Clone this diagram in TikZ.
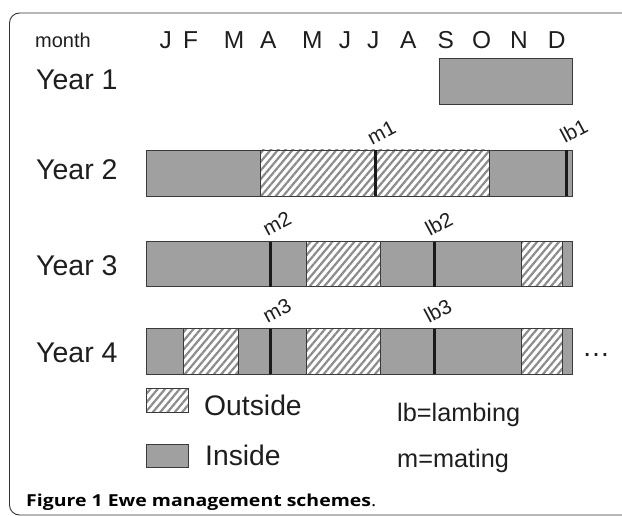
\documentclass[tikz,border=0pt]{standalone}
\usepackage{fontspec}
\setmainfont{Liberation Sans}
\newfontfamily\capfont{Open Sans}
\usetikzlibrary{patterns.meta}
\definecolor{barfill}{HTML}{A0A0A0}
\definecolor{bardraw}{HTML}{3A3A3A}
\definecolor{hatchcol}{HTML}{8C8C8C}
\definecolor{markcol}{HTML}{1A1A1A}
\definecolor{txt}{HTML}{1E1E1E}
\definecolor{framecol}{HTML}{333333}
\tikzset{
  insidebar/.style={fill=barfill, draw=bardraw, line width=0.9pt},
  outsidebar/.style={preaction={fill=white}, pattern={Lines[angle=50,distance=5.6pt,line width=2.2pt]}, pattern color=hatchcol, draw=bardraw, line width=0.9pt},
  markline/.style={draw=markcol, line width=3pt},
  lbl/.style={anchor=base west, inner sep=0pt, text=txt},
  monthtxt/.style={anchor=base, inner sep=0pt, text=txt, font=\fontsize{24.5}{29}\selectfont},
  yeartxt/.style={lbl, font=\fontsize{28.5}{33}\selectfont},
  smalltxt/.style={lbl, font=\fontsize{20}{24}\selectfont},
  ratxt/.style={lbl, rotate=28, font=\fontsize{20.5}{24}\selectfont},
  legtxt/.style={lbl, font=\fontsize{28.3}{33}\selectfont},
  keytxt/.style={lbl, font=\fontsize{25.3}{30}\selectfont},
  frame/.style={draw=framecol, line width=0.9pt, rounded corners=10pt}
}
\begin{document}
\begin{tikzpicture}[x=1pt,y=-1pt]
\useasboundingbox (0,0) rectangle (622,516);
\clip (0,0) rectangle (622,516);
\draw[frame] (9.5,13) rectangle (660,515);
% header
\node[smalltxt] (month) at (35,48) {month};
\foreach \m/\x [count=\i] in {J/165.7,F/190.7,M/234,A/268.3,M/312.3,J/345,J/373.3,A/408.3,S/445.7,O/481.7,N/519,D/556.7}
  \node[monthtxt] (mo\i) at (\x,48.3) {\m};
% year labels
\node[yeartxt] (y1) at (36,90) {Year 1};
\node[yeartxt] (y2) at (36,180) {Year 2};
\node[yeartxt] (y3) at (36,276) {Year 3};
\node[yeartxt] (y4) at (36,362) {Year 4};
% Year 1
\draw[insidebar] (439.5,58.3) rectangle (572,104);
% Year 2
\draw[insidebar] (146,150) rectangle (260.7,196);
\draw[outsidebar] (260.7,150) rectangle (375,196);
\draw[outsidebar] (375,150) rectangle (489,196);
\draw[insidebar] (489,150) rectangle (572,196);
\draw[markline] (375,150) -- (375,196);
\draw[markline] (566.5,150) -- (566.5,196);
\node[ratxt] (m1) at (372,146) {m1};
\node[ratxt] (lb1) at (565,144) {lb1};
% Year 3
\draw[insidebar] (146,241.7) rectangle (306.7,286.7);
\draw[outsidebar] (306.7,241.7) rectangle (380,286.7);
\draw[insidebar] (380,241.7) rectangle (521.7,286.7);
\draw[outsidebar] (521.7,241.7) rectangle (562,286.7);
\draw[insidebar] (562,241.7) rectangle (572,286.7);
\draw[markline] (270,241.7) -- (270,286.7);
\draw[markline] (434,241.7) -- (434,286.7);
\node[ratxt] (m2) at (267.5,237) {m2};
\node[ratxt] (lb2) at (430,237) {lb2};
% Year 4
\draw[insidebar] (146,328.5) rectangle (183,374);
\draw[outsidebar] (183,328.5) rectangle (238,374);
\draw[insidebar] (238,328.5) rectangle (306.7,374);
\draw[outsidebar] (306.7,328.5) rectangle (380,374);
\draw[insidebar] (380,328.5) rectangle (521.7,374);
\draw[outsidebar] (521.7,328.5) rectangle (562,374);
\draw[insidebar] (562,328.5) rectangle (572,374);
\draw[markline] (270,328.5) -- (270,374);
\draw[markline] (434,328.5) -- (434,374);
\node[ratxt] (m3) at (267.5,324) {m3};
\node[ratxt] (lb3) at (429,324) {lb3};
\node[lbl, font=\fontsize{28}{33}\selectfont] (dots) at (582,356) {…};
% legend
\draw[outsidebar, line width=0.6pt] (146,388.5) rectangle (188,412);
\node[legtxt] (out) at (204,415) {Outside};
\draw[insidebar] (146,444) rectangle (188,467);
\node[legtxt] (ins) at (205,465) {Inside};
\node[keytxt] (lbk) at (397,421.7) {lb=lambing};
\node[keytxt] (mk) at (397,467) {m=mating};
% caption
\node[lbl, text=black, font=\capfont\fontsize{16.5}{19}\selectfont] (cap) at (26,506) {\scalebox{1.18}[1]{\textbf{Figure 1 Ewe management schemes}.}};
\end{tikzpicture}
\end{document}
